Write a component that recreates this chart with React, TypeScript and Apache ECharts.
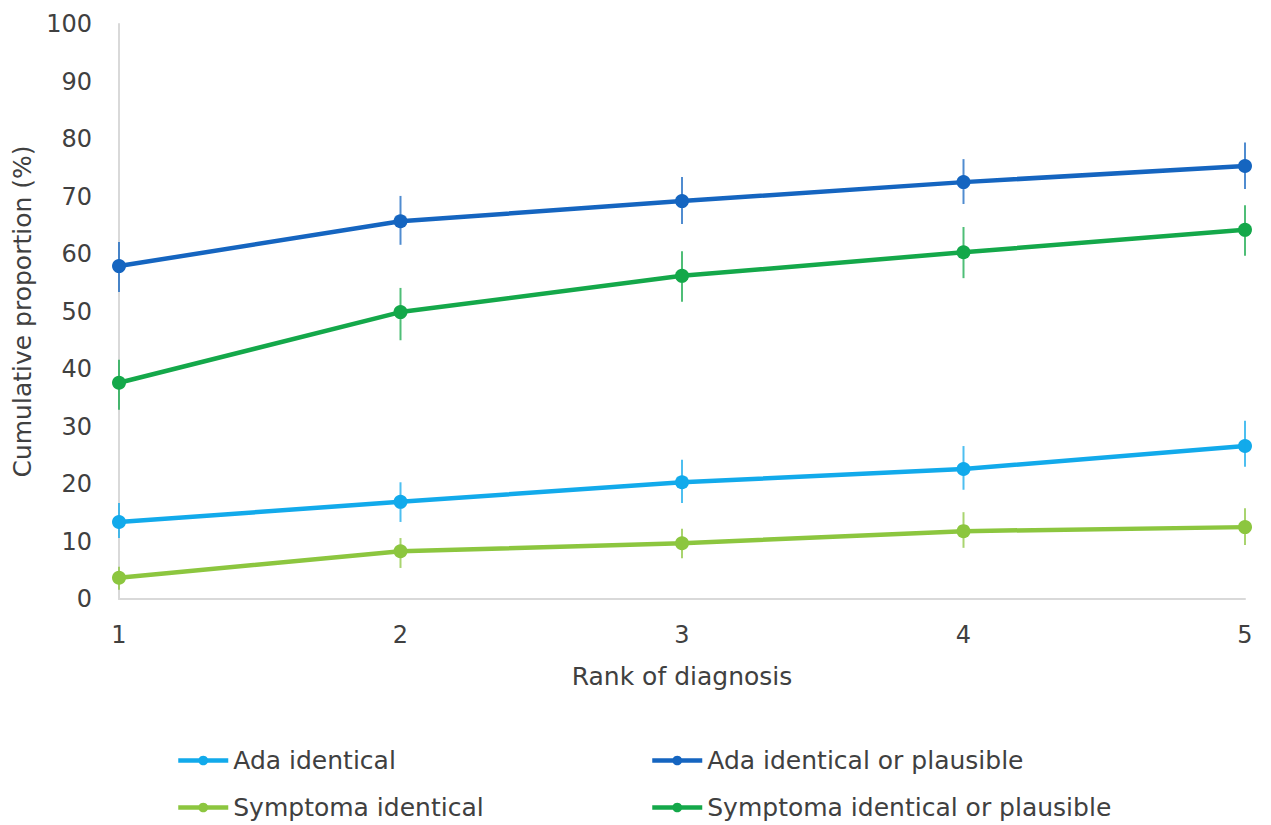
import React, { useEffect, useRef } from "react";
import * as echarts from "echarts";

const ranks = [1, 2, 3, 4, 5];
const seriesNames = [
  "Ada identical",
  "Ada identical or plausible",
  "Symptoma identical",
  "Symptoma identical or plausible",
];
const colors = ["#12AAEB", "#1565C0", "#8CC63F", "#14A84A"];

const adaIdentical = [13.4, 16.9, 20.3, 22.6, 26.6];
const adaIdenticalLow = [10.6, 13.4, 16.7, 19.0, 23.0];
const adaIdenticalHigh = [16.7, 20.3, 24.2, 26.6, 31.0];

const adaPlausible = [57.9, 65.7, 69.2, 72.5, 75.3];
const adaPlausibleLow = [53.4, 61.6, 65.2, 68.7, 71.3];
const adaPlausibleHigh = [62.1, 70.1, 73.4, 76.5, 79.4];

const symIdentical = [3.7, 8.3, 9.7, 11.8, 12.5];
const symIdenticalLow = [1.6, 5.4, 7.1, 8.9, 9.4];
const symIdenticalHigh = [5.6, 10.6, 12.2, 15.1, 15.8];

const symPlausible = [37.6, 49.9, 56.2, 60.3, 64.2];
const symPlausibleLow = [32.9, 45.0, 51.7, 55.8, 59.7];
const symPlausibleHigh = [41.6, 54.1, 60.5, 64.7, 68.5];

const values = [adaIdentical, adaPlausible, symIdentical, symPlausible];
const lows = [adaIdenticalLow, adaPlausibleLow, symIdenticalLow, symPlausibleLow];
const highs = [adaIdenticalHigh, adaPlausibleHigh, symIdenticalHigh, symPlausibleHigh];

const FONT = "DejaVu Sans";
const FS = 24;
const FS_BIG = 25;
const TEXT = "#404040";

export default function App() {
  const ref = useRef<HTMLDivElement>(null);
  useEffect(() => {
    if (!ref.current) return;
    const chart = echarts.init(ref.current, undefined, { renderer: "svg" });
    const lineSeries = seriesNames.map((name, i) => ({
      name,
      type: "line",
      data: ranks.map((r, j) => [r, values[i][j]]),
      symbol: "circle",
      symbolSize: 14,
      showSymbol: true,
      lineStyle: { width: 4.5, color: colors[i] },
      itemStyle: { color: colors[i] },
      z: 3,
    }));
    const errSeries = seriesNames.map((name, i) => ({
      name: name + " CI",
      type: "custom",
      data: ranks.map((r, j) => [r, lows[i][j], highs[i][j]]),
      encode: { x: 0, y: [1, 2] },
      z: 4,
      renderItem: (params: any, api: any) => {
        const p1 = api.coord([api.value(0), api.value(1)]);
        const p2 = api.coord([api.value(0), api.value(2)]);
        return {
          type: "line",
          shape: { x1: p1[0], y1: p1[1], x2: p2[0], y2: p2[1] },
          style: { stroke: colors[i], lineWidth: 2, opacity: 0.75 },
        };
      },
    }));
    const legendPos = [
      { left: 176, top: 748 },
      { left: 650, top: 748 },
      { left: 176, top: 795 },
      { left: 650, top: 795 },
    ];
    chart.setOption({
      animation: false,
      textStyle: { fontFamily: FONT },
      grid: { left: 119, right: 26, top: 24, bottom: 226, containLabel: false },
      legend: seriesNames.map((name, i) => ({
        data: [name],
        left: legendPos[i].left,
        top: legendPos[i].top,
        padding: 0,
        itemWidth: 50,
        itemHeight: 12,
        lineStyle: { width: 4.5 },
        textStyle: { fontFamily: FONT, fontSize: FS_BIG, color: TEXT },
        selectedMode: false,
      })),
      xAxis: {
        type: "value",
        min: 1,
        max: 5,
        interval: 1,
        name: "Rank of diagnosis",
        nameLocation: "middle",
        nameGap: 65,
        nameTextStyle: { fontFamily: FONT, fontSize: FS_BIG, color: TEXT },
        axisLine: { show: true, lineStyle: { color: "#D9D9D9", width: 2 } },
        axisTick: { show: false },
        splitLine: { show: false },
        axisLabel: { fontFamily: FONT, fontSize: FS, color: TEXT, margin: 24 },
      },
      yAxis: {
        type: "value",
        min: 0,
        max: 100,
        interval: 10,
        name: "Cumulative proportion (%)",
        nameLocation: "middle",
        nameGap: 80,
        nameTextStyle: { fontFamily: FONT, fontSize: FS_BIG, color: TEXT },
        axisLine: { show: true, lineStyle: { color: "#D9D9D9", width: 2 } },
        axisTick: { show: false },
        splitLine: { show: false },
        axisLabel: { fontFamily: FONT, fontSize: FS, color: TEXT, margin: 27 },
      },
      series: [...lineSeries, ...errSeries],
    });
    return () => chart.dispose();
  }, []);
  return <div ref={ref} style={{ width: 1271, height: 825, position: "absolute", left: 0, top: 0 }} />;
}
